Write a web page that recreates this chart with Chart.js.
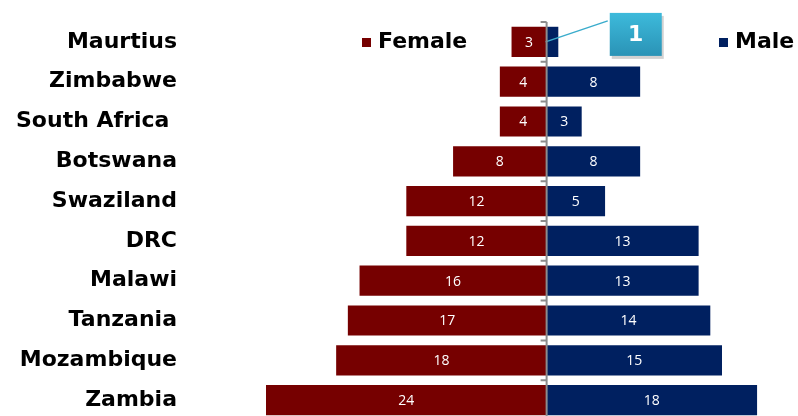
<!DOCTYPE html>
<html>
<head>
<meta charset="utf-8">
<script src="https://cdn.jsdelivr.net/npm/chart.js@4"></script>
<style>
  html, body { margin: 0; padding: 0; background: #fff; }
  #wrap { width: 798px; height: 416px; overflow: hidden; position: relative; }
  #box { width: 798px; height: 420px; position: relative; }
</style>
</head>
<body>
<div id="wrap"><div id="box"><canvas id="chart"></canvas></div></div>
<script>
const countries = ["Maurtius", "Zimbabwe", "South Africa ", "Botswana", "Swaziland", "DRC", "Malawi", "Tanzania", "Mozambique", "Zambia"];
const female = [3, 4, 4, 8, 12, 12, 16, 17, 18, 24];
const male = [1, 8, 3, 8, 5, 13, 13, 14, 15, 18];
const calloutIndex = 0; // Maurtius male value is shown in a callout box

const FEMALE_COLOR = "#760000";
const MALE_COLOR = "#002060";

// value labels inside the bars + the callout
const barLabels = {
  id: "barLabels",
  afterDatasetsDraw(chart) {
    const ctx = chart.ctx;
    ctx.save();
    ctx.font = "14px 'Open Sans', sans-serif";
    ctx.fillStyle = "#fff";
    ctx.textAlign = "center";
    ctx.textBaseline = "middle";
    chart.data.datasets.forEach((ds, di) => {
      chart.getDatasetMeta(di).data.forEach((bar, i) => {
        if (di === 1 && i === calloutIndex) return;
        const x = (bar.x + bar.base) / 2;
        ctx.fillText(String(Math.abs(ds.data[i])), x, bar.y + 1);
      });
    });

    // callout for the small male bar
    const bar = chart.getDatasetMeta(1).data[calloutIndex];
    const xs = chart.scales.x;
    const bx = xs.getPixelForValue(5.4), bw = 52;
    const by = bar.y - 29, bh = 43;
    ctx.strokeStyle = "#3aaccc";
    ctx.lineWidth = 1.5;
    ctx.beginPath();
    ctx.moveTo(bx - 2, by + 8);
    ctx.lineTo(xs.getPixelForValue(0) - 1, bar.y);
    ctx.stroke();
    ctx.fillStyle = "rgba(0,0,0,0.18)";
    ctx.fillRect(bx + 2, by + 3, bw, bh);
    const g = ctx.createLinearGradient(0, by, 0, by + bh);
    g.addColorStop(0, "#3dbadb");
    g.addColorStop(1, "#2a93b6");
    ctx.fillStyle = g;
    ctx.fillRect(bx, by, bw, bh);
    ctx.fillStyle = "#fff";
    ctx.font = "bold 22px 'DejaVu Sans', sans-serif";
    ctx.fillText(String(male[calloutIndex]), bx + bw / 2, by + bh / 2 + 1);
    ctx.restore();
  }
};

// centre axis line with small ticks between the categories
const centreAxis = {
  id: "centreAxis",
  afterDatasetsDraw(chart) {
    const ctx = chart.ctx;
    const x0 = chart.scales.x.getPixelForValue(0);
    const ys = chart.scales.y;
    const band = (ys.bottom - ys.top) / countries.length;
    ctx.save();
    ctx.strokeStyle = "#8c8c8c";
    ctx.lineWidth = 2;
    ctx.beginPath();
    ctx.moveTo(x0, ys.top);
    ctx.lineTo(x0, ys.bottom);
    for (let i = 0; i <= countries.length; i++) {
      const y = ys.getPixelForValue(i) - band / 2;
      ctx.moveTo(x0 - 6, y);
      ctx.lineTo(x0, y);
    }
    ctx.stroke();
    ctx.restore();
  }
};

// legend placed like the original
const sideLegend = {
  id: "sideLegend",
  afterDraw(chart) {
    const ctx = chart.ctx;
    ctx.save();
    ctx.font = "bold 22px 'DejaVu Sans', sans-serif";
    ctx.textBaseline = "middle";
    ctx.textAlign = "left";
    const items = [
      { ds: chart.data.datasets[0], x: 362 },
      { ds: chart.data.datasets[1], x: 719 }
    ];
    items.forEach(it => {
      ctx.fillStyle = it.ds.backgroundColor;
      ctx.fillRect(it.x, 38, 9, 9);
      ctx.fillStyle = "#000";
      ctx.fillText(it.ds.label, it.x + 16, 42);
    });
    ctx.restore();
  }
};

new Chart(document.getElementById("chart"), {
  type: "bar",
  data: {
    labels: countries,
    datasets: [
      { label: "Female", data: female.map(v => -v), backgroundColor: FEMALE_COLOR, barPercentage: 0.76, categoryPercentage: 1 },
      { label: "Male", data: male, backgroundColor: MALE_COLOR, barPercentage: 0.76, categoryPercentage: 1 }
    ]
  },
  options: {
    indexAxis: "y",
    responsive: true,
    maintainAspectRatio: false,
    animation: false,
    layout: { padding: { top: 22, right: 0, bottom: 0, left: 0 } },
    plugins: { legend: { display: false }, tooltip: { enabled: false } },
    scales: {
      x: { stacked: true, min: -24, max: 21.5, display: false },
      y: {
        stacked: true,
        grid: { display: false },
        border: { display: false },
        ticks: { color: "#000", font: { family: "'DejaVu Sans', sans-serif", size: 22, weight: "bold" }, padding: 81 },
        afterFit(scale) {
          scale.width = 266;
          // tick padding would otherwise be added above and below the axis too
          scale.paddingTop = 0;
          scale.paddingBottom = 0;
        }
      }
    }
  },
  plugins: [barLabels, centreAxis, sideLegend]
});
</script>
</body>
</html>
